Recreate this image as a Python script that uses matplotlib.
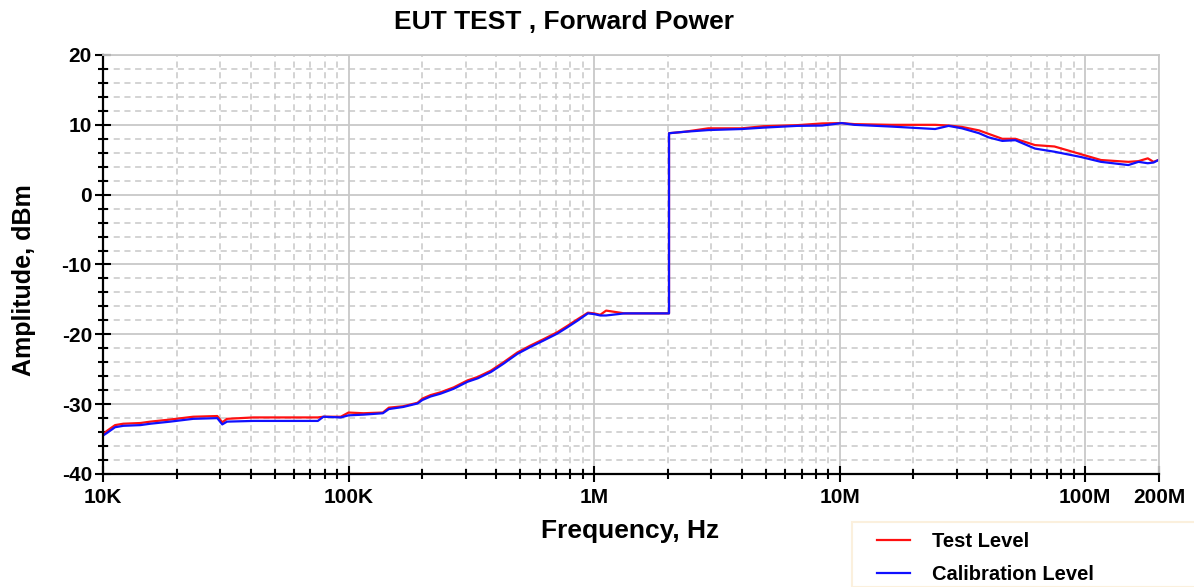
import matplotlib
matplotlib.use("Agg")
import matplotlib.pyplot as plt
from matplotlib.patches import Rectangle

plt.rcParams['font.family'] = ['Liberation Sans', 'DejaVu Sans']
plt.rcParams['axes.unicode_minus'] = False

# ---- data ----
freq_hz = [10e3, 10.4e3, 11.2e3, 12.1e3, 14.2e3, 15.6e3, 18.8e3, 23.3e3, 29.2e3, 30.6e3,
           32e3, 41e3, 75e3, 79e3, 93e3, 100e3, 115e3, 138e3, 146e3, 167e3,
           191e3, 200e3, 216e3, 237e3, 268e3, 305e3, 336e3, 380e3, 428e3, 487e3,
           551e3, 622e3, 708e3, 778e3, 860e3, 944e3, 1.0e6, 1.06e6, 1.12e6, 1.33e6,
           2.02e6, 2.02e6, 2.33e6, 2.92e6, 4.0e6, 4.9e6, 6.7e6, 8.5e6, 10.2e6, 11.5e6,
           16.3e6, 24.5e6, 27.8e6, 31.5e6, 37e6, 40.5e6, 46e6, 52e6, 62.5e6, 75e6,
           96e6, 116e6, 150e6, 165e6, 180e6, 190e6, 200e6]

test_level = [-34.3, -33.8, -33.0, -32.8, -32.7, -32.5, -32.2, -31.8, -31.7, -32.6,
              -32.1, -31.9, -31.9, -31.8, -31.8, -31.2, -31.3, -31.2, -30.5, -30.3,
              -29.8, -29.2, -28.7, -28.3, -27.6, -26.6, -26.1, -25.2, -24.0, -22.6,
              -21.6, -20.7, -19.7, -18.8, -17.8, -16.9, -17.0, -17.2, -16.6, -17.0,
              -17.0, 8.8, 9.0, 9.5, 9.5, 9.8, 9.95, 10.2, 10.25, 10.1,
              10.0, 10.0, 9.9, 9.7, 9.2, 8.7, 8.0, 8.0, 7.1, 6.9,
              5.8, 4.96, 4.7, 4.8, 5.2, 4.7, 5.0]

calibration_level = [-34.5, -34.1, -33.3, -33.1, -33.0, -32.8, -32.5, -32.1, -32.0, -32.9,
                     -32.5, -32.4, -32.4, -31.8, -31.9, -31.6, -31.5, -31.3, -30.7, -30.4,
                     -29.9, -29.4, -28.9, -28.5, -27.8, -26.8, -26.3, -25.4, -24.2, -22.8,
                     -21.8, -20.9, -19.9, -19.0, -18.0, -17.0, -17.1, -17.3, -17.3, -17.0,
                     -17.0, 8.8, 9.0, 9.25, 9.4, 9.6, 9.85, 9.9, 10.25, 10.0,
                     9.75, 9.4, 9.85, 9.5, 8.8, 8.2, 7.7, 7.8, 6.6, 6.15,
                     5.4, 4.7, 4.24, 4.7, 4.5, 4.6, 5.0]

x_ticks = [1e4, 1e5, 1e6, 1e7, 1e8, 2e8]
x_tick_labels = ['10K', '100K', '1M', '10M', '100M', '200M']
y_ticks = [-40, -30, -20, -10, 0, 10, 20]

title = 'EUT TEST , Forward Power'
x_label = 'Frequency, Hz'
y_label = 'Amplitude, dBm'
series_names = ['Test Level', 'Calibration Level']

# ---- figure ----
W, H = 1194, 587
fig = plt.figure(figsize=(W / 100, H / 100), dpi=100)
ax = fig.add_axes([103 / W, 1 - 474 / H, (1159 - 103) / W, (474 - 55) / H])

grid_c = '#c8c8c8'
ax.set_xscale('log')
ax.set_xlim(1e4, 2e8)
ax.set_ylim(-40, 20)

ax.set_xticks(x_ticks)
ax.set_xticklabels(x_tick_labels)
minor_x = [k * 10 ** d for d in range(4, 8) for k in range(2, 10)]
ax.set_xticks(minor_x, minor=True)
ax.set_xticklabels([], minor=True)
ax.set_yticks(y_ticks)
ax.set_yticks(list(range(-38, 20, 2)), minor=True)

ax.grid(True, which='major', color=grid_c, linewidth=1.3, linestyle='-')
ax.grid(True, which='minor', color=grid_c, linewidth=1.1, linestyle=(0, (4, 3)))
ax.set_axisbelow(True)

for s in ['top', 'right']:
    ax.spines[s].set_color(grid_c)
    ax.spines[s].set_linewidth(1.3)
for s in ['left', 'bottom']:
    ax.spines[s].set_color('black')
    ax.spines[s].set_linewidth(1.6)

ax.tick_params(which='major', direction='inout', length=12, width=1.5, color='black',
               labelsize=15, pad=2)
ax.tick_params(which='minor', direction='inout', length=7, width=1.5, color='black')
ax.tick_params(axis='x', which='major', pad=4)
for lab in ax.get_xticklabels() + ax.get_yticklabels():
    lab.set_fontweight('bold')

l1, = ax.plot(freq_hz, test_level, color='#ff1010', linewidth=1.6)
l2, = ax.plot(freq_hz, calibration_level, color='#1010ff', linewidth=1.6)

fig.text(564 / W, 1 - 22 / H, title, ha='center', va='center', fontsize=19, fontweight='bold')
fig.text(24 / W, 1 - 280 / H, y_label, ha='center', va='center', rotation=90,
         fontsize=18, fontweight='bold')
fig.text(630 / W, 1 - 531 / H, x_label, ha='center', va='center', fontsize=19, fontweight='bold')

# legend frame (light cream border, extends past figure edge)
fig.patches.append(Rectangle((852 / W, 0), 1 - 852 / W + 0.01, (587 - 522) / H,
                             transform=fig.transFigure, facecolor='white',
                             edgecolor='#fbf0dd', linewidth=1.5, zorder=0))
leg = fig.legend([l1, l2], series_names, loc='upper left',
                 bbox_to_anchor=(877 / W, 1 - 532 / H), frameon=False,
                 prop={'weight': 'bold', 'size': 14.5}, handlelength=1.65, handletextpad=1.1,
                 borderpad=0, labelspacing=0.7, borderaxespad=0)

fig.savefig('out.png', dpi=100)
